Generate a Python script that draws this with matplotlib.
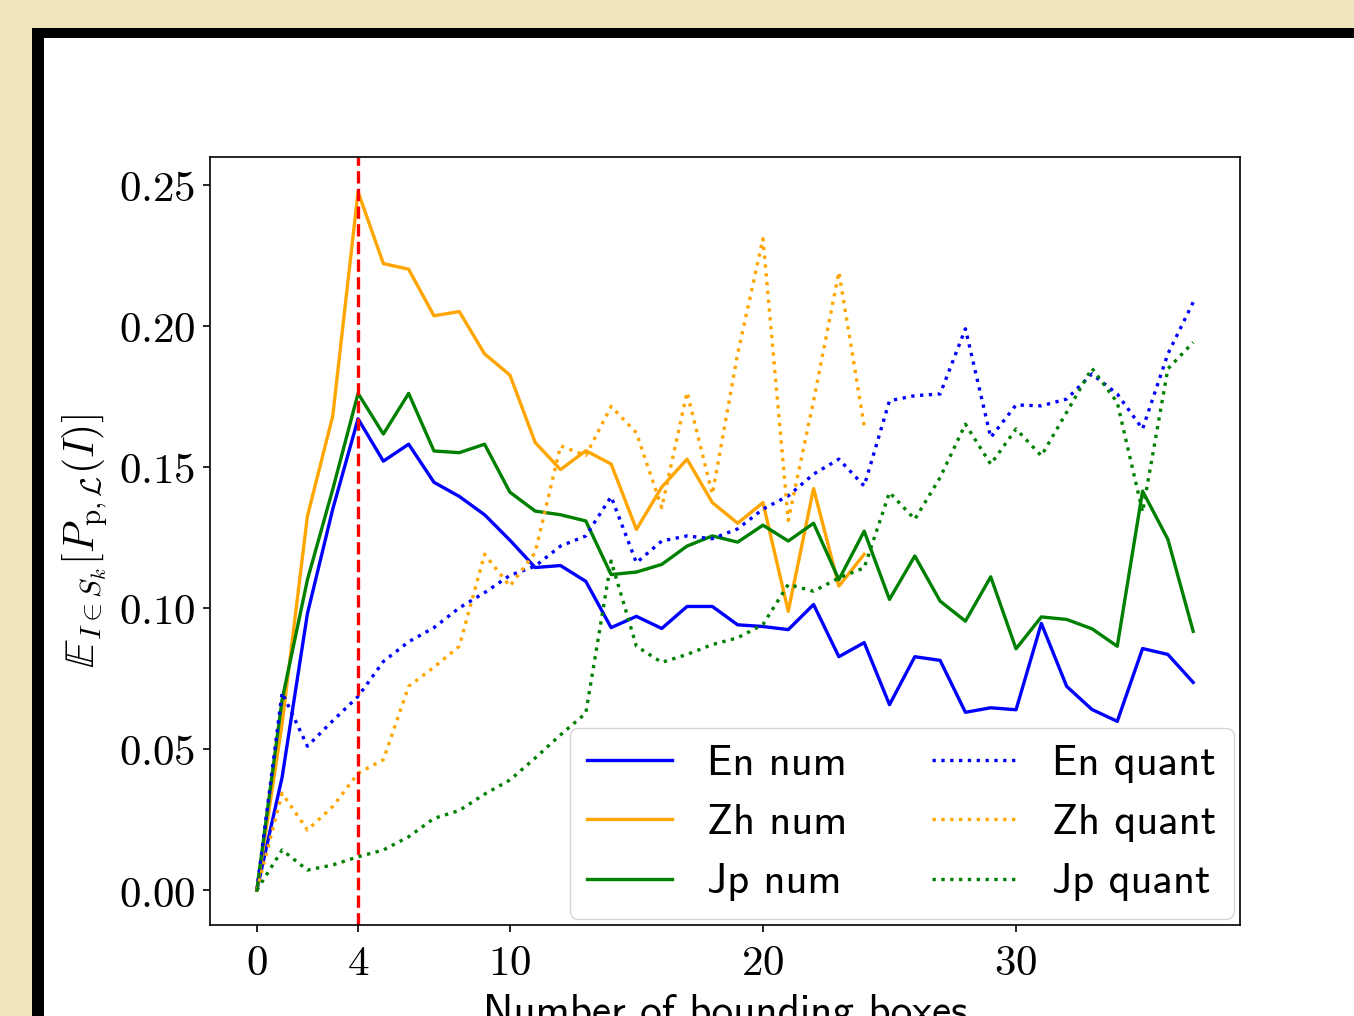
import numpy as np
import matplotlib
matplotlib.use("Agg")
import matplotlib.pyplot as plt
from matplotlib.patches import Rectangle
from matplotlib.ticker import FuncFormatter

plt.rcParams["mathtext.fontset"] = "cm"

# number of bounding boxes
k_all = np.arange(38)
k_zh = np.arange(25)

en_num = [0.0, 0.040, 0.098, 0.135, 0.167, 0.152, 0.158, 0.1445, 0.1395, 0.133,
          0.124, 0.1143, 0.115, 0.1094, 0.093, 0.097, 0.0927, 0.1005, 0.1005, 0.094,
          0.0934, 0.0923, 0.1012, 0.0827, 0.0877, 0.0657, 0.0827, 0.0814, 0.063, 0.0646,
          0.0639, 0.0945, 0.0722, 0.064, 0.0598, 0.0856, 0.0835, 0.0736]
zh_num = [0.0, 0.059, 0.1325, 0.168, 0.2474, 0.222, 0.220, 0.2035, 0.205, 0.190,
          0.1825, 0.1586, 0.1490, 0.1557, 0.151, 0.1278, 0.1428, 0.1527, 0.1373, 0.130,
          0.1373, 0.0988, 0.1423, 0.1077, 0.119]
jp_num = [0.0, 0.0675, 0.110, 0.142, 0.176, 0.1616, 0.176, 0.1556, 0.155, 0.158,
          0.141, 0.1343, 0.133, 0.1308, 0.1118, 0.1127, 0.1154, 0.1219, 0.1255, 0.1233,
          0.1293, 0.1237, 0.130, 0.110, 0.1272, 0.103, 0.1184, 0.1024, 0.0953, 0.111,
          0.0855, 0.0968, 0.0959, 0.0926, 0.0864, 0.1414, 0.1243, 0.0917]

en_quant = [0.0, 0.070, 0.051, 0.060, 0.0686, 0.081, 0.088, 0.093, 0.100, 0.1054,
            0.1115, 0.1148, 0.1219, 0.1255, 0.1394, 0.116, 0.1237, 0.1255, 0.1245, 0.128,
            0.135, 0.1397, 0.1474, 0.1527, 0.1432, 0.1734, 0.1752, 0.1758, 0.1989, 0.1604,
            0.1719, 0.1716, 0.174, 0.1829, 0.1758, 0.1634, 0.190, 0.2083]
zh_quant = [0.0, 0.0343, 0.0213, 0.0296, 0.0414, 0.0462, 0.0722, 0.079, 0.0864, 0.119,
            0.1077, 0.1196, 0.1574, 0.154, 0.1714, 0.162, 0.1355, 0.1764, 0.1403, 0.190,
            0.2308, 0.131, 0.1734, 0.219, 0.1645]
jp_quant = [0.0, 0.0142, 0.0071, 0.0089, 0.0118, 0.0142, 0.0189, 0.0254, 0.0282, 0.034,
            0.039, 0.0468, 0.055, 0.0627, 0.1166, 0.0864, 0.0807, 0.0835, 0.087, 0.0894,
            0.0941, 0.1083, 0.1059, 0.1106, 0.1142, 0.1409, 0.1314, 0.1462, 0.1651, 0.1509,
            0.1634, 0.1539, 0.1693, 0.1849, 0.1728, 0.134, 0.1847, 0.1941]

x_ticks = [0, 4, 10, 20, 30]
y_ticks = [0.0, 0.05, 0.10, 0.15, 0.20, 0.25]

fig = plt.figure(figsize=(13.54, 10.16), dpi=100)
fig.patch.set_facecolor("#efe4bb")
fig.add_artist(Rectangle((32 / 1354, 0), 1, 1 - 28 / 1016, transform=fig.transFigure,
                         facecolor="black", edgecolor="none", zorder=-2))
fig.add_artist(Rectangle((44 / 1354, 0), 1, 1 - 38 / 1016, transform=fig.transFigure,
                         facecolor="white", edgecolor="none", zorder=-1))

ax = fig.add_axes([210 / 1354, 1 - 925 / 1016, 1030 / 1354, 768 / 1016])

lw = 2.4
ax.plot(k_all, en_num, color="blue", lw=lw, label="En num")
ax.plot(k_zh, zh_num, color="orange", lw=lw, label="Zh num")
ax.plot(k_all, jp_num, color="green", lw=lw, label="Jp num")
ax.plot(k_all, en_quant, color="blue", lw=lw, ls=":", label="En quant")
ax.plot(k_zh, zh_quant, color="orange", lw=lw, ls=":", label="Zh quant")
ax.plot(k_all, jp_quant, color="green", lw=lw, ls=":", label="Jp quant")
ax.axvline(4, color="red", ls="--", lw=lw)

ax.set_xticks(x_ticks)
ax.set_yticks(y_ticks)
ax.xaxis.set_major_formatter(FuncFormatter(lambda v, p: f"${v:.0f}$"))
ax.yaxis.set_major_formatter(FuncFormatter(lambda v, p: f"${v:.2f}$"))
ax.tick_params(labelsize=31, length=5.2, width=1.2, pad=5)
ax.tick_params(axis="x", pad=7)
for s in ax.spines.values():
    s.set_linewidth(1.2)

ax.set_ylabel(r"$\mathbb{E}_{I\in S_k}[P_{\mathrm{p},\mathcal{L}}(I)]$", fontsize=30, labelpad=7)
ax.set_xlabel("Number of bounding boxes", fontfamily="cmss10", fontsize=31, labelpad=7)

ax.legend(loc="lower right", ncol=2, prop={"family": "cmss10", "size": 30.8},
          borderaxespad=0.15)

fig.savefig("out.png", dpi=100, facecolor=fig.get_facecolor())
